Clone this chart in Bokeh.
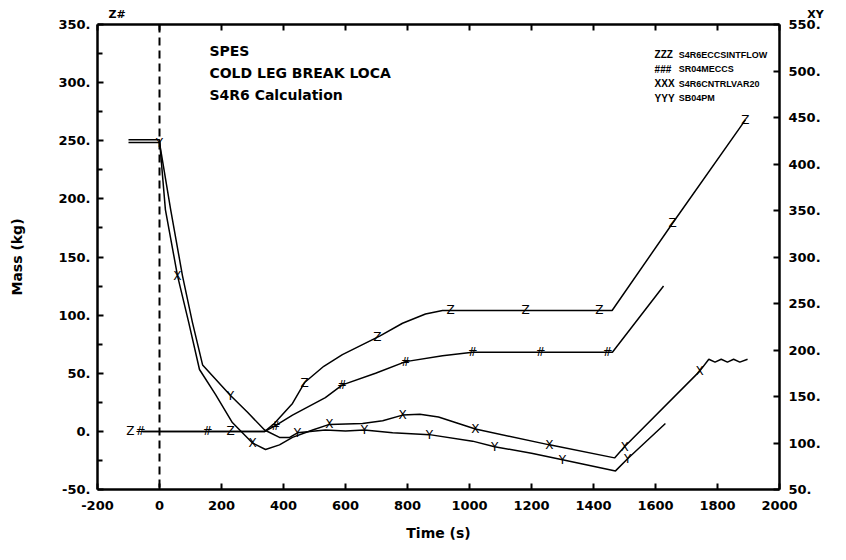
import numpy as np
from bokeh.plotting import figure
from bokeh.models import (Range1d, LinearAxis, FixedTicker, PrintfTickFormatter, Span, Title,
                          CustomJSTickFormatter)
from bokeh.core.properties import value
from bokeh.embed import file_html
from bokeh.resources import INLINE

# ---------------- data ----------------
# ZZZ  S4R6ECCSINTFLOW  (left axis, kg)
z_time = [-55, 340, 371, 429, 468, 530, 590, 650, 710, 784, 858, 913, 1000, 1200, 1460, 1655, 1890]
z_mass = [0, 0, 7, 24, 42, 56, 66, 74, 82, 93, 101, 104, 104, 104, 104, 179, 268]
z_marks = [-94, 229, 468, 703, 939, 1181, 1419, 1655, 1890]

# ###  SR04MECCS  (left axis, kg)
h_time = [-55, 340, 374, 429, 535, 590, 697, 794, 913, 1010, 1229, 1461, 1626]
h_mass = [0, 0, 5, 14, 29, 40, 50, 60, 65, 68, 68, 68, 125]
h_marks = [-61, 155, 374, 590, 794, 1010, 1229, 1445]

# XXX  S4R6CNTRLVAR20  (right axis)
x_time = [-100, 0, 19, 58, 94, 129, 181, 235, 300, 342, 387, 429, 494, 548, 655, 720,
          784, 840, 900, 1019, 1258, 1468, 1500, 1742, 1772, 1792, 1812, 1832, 1852, 1872, 1897]
x_val = [426, 426, 351, 280, 230, 179, 152, 122, 100, 93, 98, 106, 114, 120, 121, 124,
         130, 131, 128, 115, 98, 84, 96, 177, 190, 187, 190, 187, 190, 187, 190]
x_marks = [58, 300, 548, 784, 1019, 1258, 1500, 1742]

# YYY  SB04PM  (right axis)
y_time = [-100, 0, 36, 74, 106, 139, 229, 284, 339, 387, 420, 445, 535, 600, 661, 752,
          871, 1010, 1081, 1200, 1300, 1471, 1510, 1632]
y_val = [423, 423, 351, 280, 230, 184, 151, 133, 114, 106, 106, 111, 114, 113, 114, 111,
         109, 102, 96, 89, 82, 70, 83, 121]
y_marks = [0, 229, 445, 661, 871, 1081, 1300, 1510]

x_ticks = list(range(-200, 2001, 200))
left_ticks = list(range(-50, 351, 50))
left_minor = list(range(-25, 350, 50))
right_ticks = list(range(50, 551, 50))

legend_codes = ["ZZZ", "###", "XXX", "YYY"]
legend_names = ["S4R6ECCSINTFLOW", "SR04MECCS", "S4R6CNTRLVAR20", "SB04PM"]
title_lines = ["SPES", "COLD LEG BREAK LOCA", "S4R6 Calculation"]
left_tag = "Z#"
right_tag = "XY"

FONT = "DejaVu Sans"

p = figure(width=830, height=544, x_range=Range1d(-200, 2000), y_range=Range1d(-50, 350),
           output_backend="svg", toolbar_location=None,
           min_border_left=97, min_border_right=51, min_border_top=24, min_border_bottom=55)
p.extra_y_ranges = {"right": Range1d(50, 550)}
p.xgrid.visible = False
p.ygrid.visible = False
p.outline_line_color = None
p.background_fill_color = "white"


def style(ax, ticks, minor=None, fmt="%d"):
    ax.ticker = FixedTicker(ticks=ticks, minor_ticks=minor or [])
    ax.formatter = PrintfTickFormatter(format=fmt)
    ax.axis_line_width = 2.5
    ax.axis_line_color = "black"
    ax.major_tick_in = 6
    ax.major_tick_out = 0
    ax.minor_tick_in = 5
    ax.minor_tick_out = 0
    ax.major_tick_line_width = 2
    ax.minor_tick_line_width = 2
    ax.major_label_text_font = FONT
    ax.major_label_text_font_style = "bold"
    ax.major_label_text_font_size = "13px"
    ax.major_label_text_color = "black"
    ax.axis_label_text_font = FONT
    ax.axis_label_text_font_style = "bold"
    ax.axis_label_text_font_size = "14px"
    ax.axis_label_text_color = "black"


bottom = p.below[0]
style(bottom, x_ticks, fmt="%d")
bottom.major_label_standoff = 11
bottom.axis_label = "Time (s)"
bottom.axis_label_standoff = 12

left = p.left[0]
style(left, left_ticks, left_minor, fmt="%d.")
left.major_label_standoff = 7
left.axis_label = "Mass (kg)"
left.axis_label_standoff = 30

right = LinearAxis(y_range_name="right")
style(right, right_ticks, fmt="%d.")
right.major_label_standoff = 9
p.add_layout(right, "right")

top = LinearAxis()
style(top, x_ticks, fmt="%d")
top.formatter = CustomJSTickFormatter(code="return ''")
top.major_label_text_font_size = "1px"
top.major_label_standoff = 0
p.add_layout(top, "above")

# axis tags above the two vertical axes (one title row)
gap = "\u00a0" * 178
p.add_layout(Title(text=left_tag + gap + right_tag, align="left", offset=11, standoff=8,
                   text_font=FONT, text_font_style="bold", text_font_size="11px",
                   text_color="black"), "above")

p.add_layout(Span(location=0, dimension="height", line_dash="8 5", line_width=2,
                  line_color="black"))

lw = 1.5
p.line(z_time, z_mass, line_color="black", line_width=lw)
p.line(h_time, h_mass, line_color="black", line_width=lw)
p.line(x_time, x_val, line_color="black", line_width=lw, y_range_name="right")
p.line(y_time, y_val, line_color="black", line_width=lw, y_range_name="right")


def marks(xs, tx, ty, ch, rng=None):
    ys = list(np.interp(xs, tx, ty))
    kw = dict(text_align="center", text_baseline="middle", text_font=value(FONT),
              text_font_size="12px", text_color="black")
    if rng:
        kw["y_range_name"] = rng
    p.text(x=xs, y=ys, text=[ch] * len(xs), **kw)


marks(z_marks, z_time, z_mass, "Z")
marks(h_marks, h_time, h_mass, "#")
marks(x_marks, x_time, x_val, "X", "right")
marks(y_marks, y_time, y_val, "Y", "right")

# title block (left-axis data coordinates)
n = len(title_lines)
p.text(x=[161] * n, y=[327 - i * 19 for i in range(n)], text=title_lines,
       text_align="left", text_baseline="middle", text_font=value(FONT),
       text_font_style="bold", text_font_size="14px", text_color="black")

# legend block
m = len(legend_codes)
ly = [324 - i * 12.5 for i in range(m)]
p.text(x=[1597] * m, y=ly, text=legend_codes, text_align="left", text_baseline="middle",
       text_font=value("Liberation Sans"), text_font_style="bold", text_font_size="10px",
       text_color="black")
p.text(x=[1675] * m, y=ly, text=legend_names, text_align="left", text_baseline="middle",
       text_font=value("Liberation Sans"), text_font_style="bold", text_font_size="9px",
       text_color="black")

open("out.html", "w").write(file_html(p, INLINE))
